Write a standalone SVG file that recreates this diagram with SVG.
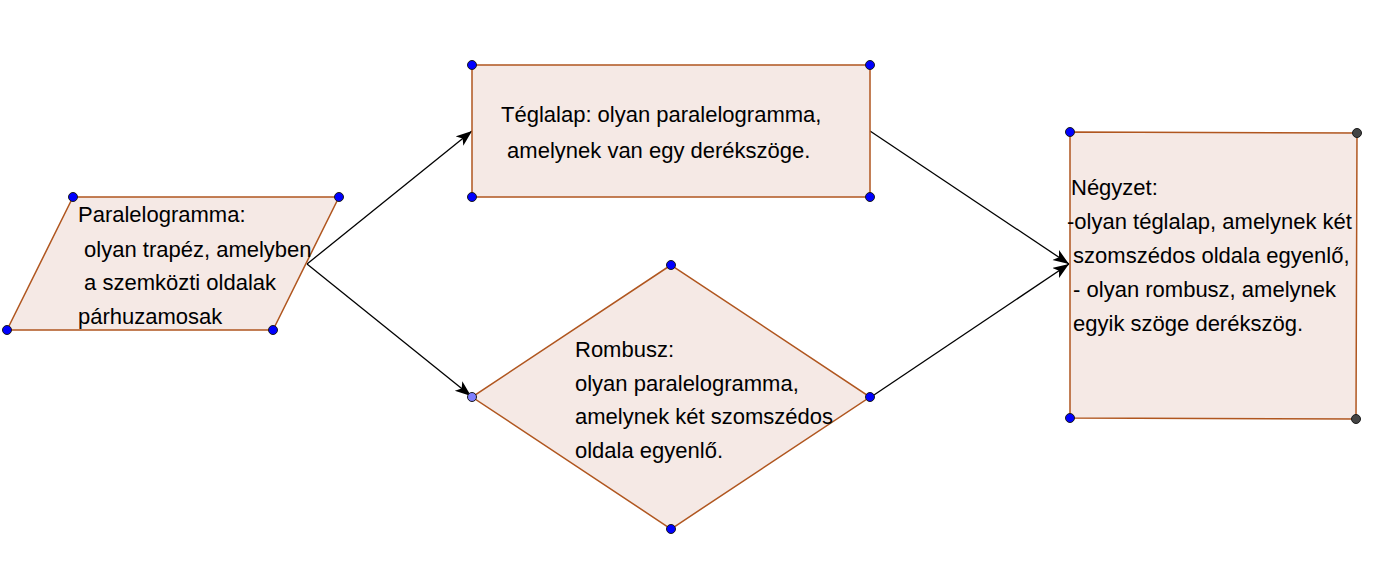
<svg xmlns="http://www.w3.org/2000/svg" width="1384" height="569" viewBox="0 0 1384 569">
<defs>
<style>
.shape{fill:#f5e9e5;stroke:#b0561f;stroke-width:1.5}
.t{font-family:"Liberation Sans",Arial,sans-serif;font-size:22px;fill:#000}
.pt{fill:#0000ff;stroke:#1a1a1a;stroke-width:1}
.pl{fill:#7f7fff;stroke:#1a1a1a;stroke-width:1}
.pg{fill:#444;stroke:#1a1a1a;stroke-width:1}
.c{stroke:#000;stroke-width:1.3;fill:none;marker-end:url(#ah)}
</style>
<marker id="ah" markerUnits="userSpaceOnUse" markerWidth="18" markerHeight="14" refX="16" refY="6" orient="auto">
<path d="M0,0 L16,6 L0,12 L4,6 Z" fill="#000"/>
</marker>
</defs>
<rect width="1384" height="569" fill="#fff"/>
<g id="connectors">
<line class="c" x1="307" y1="264" x2="472" y2="131"/>
<line class="c" x1="307" y1="264" x2="471" y2="396"/>
<line class="c" x1="870" y1="131" x2="1069" y2="264"/>
<line class="c" x1="871" y1="397" x2="1069" y2="264"/>
</g>
<g id="paralelogramma">
<polygon class="shape" points="73,197 339,197 273,330 7,330"/>
<text class="t" x="78" y="222">Paralelogramma:</text>
<text class="t" x="78" y="257" xml:space="preserve"> olyan trapéz, amelyben</text>
<text class="t" x="78" y="290" xml:space="preserve"> a szemközti oldalak</text>
<text class="t" x="78" y="324">párhuzamosak</text>
<circle class="pt" cx="73" cy="197" r="4.5"/>
<circle class="pt" cx="339" cy="197" r="4.5"/>
<circle class="pt" cx="273" cy="330" r="4.5"/>
<circle class="pt" cx="7" cy="330" r="4.5"/>
</g>
<g id="teglalap">
<rect class="shape" x="472" y="65" width="398" height="132"/>
<text class="t" x="501" y="122">Téglalap: olyan paralelogramma,</text>
<text class="t" x="501" y="158" xml:space="preserve"> amelynek van egy derékszöge.</text>
<circle class="pt" cx="472" cy="65" r="4.5"/>
<circle class="pt" cx="870" cy="65" r="4.5"/>
<circle class="pt" cx="472" cy="197" r="4.5"/>
<circle class="pt" cx="870" cy="197" r="4.5"/>
</g>
<g id="rombusz">
<polygon class="shape" points="671,265 870,397 671,529 472,397"/>
<text class="t" x="575" y="357">Rombusz:</text>
<text class="t" x="575" y="391">olyan paralelogramma,</text>
<text class="t" x="575" y="424">amelynek két szomszédos</text>
<text class="t" x="575" y="458">oldala egyenlő.</text>
<circle class="pt" cx="671" cy="265" r="4.5"/>
<circle class="pt" cx="870" cy="397" r="4.5"/>
<circle class="pt" cx="671" cy="529" r="4.5"/>
<circle class="pl" cx="472" cy="397" r="4.5"/>
</g>
<g id="negyzet">
<polygon class="shape" points="1070,132 1357,133 1356,419 1070,418"/>
<text class="t" x="1071" y="195">Négyzet:</text>
<text class="t" x="1067" y="229">-olyan téglalap, amelynek két</text>
<text class="t" x="1067" y="263" xml:space="preserve"> szomszédos oldala egyenlő,</text>
<text class="t" x="1067" y="297" xml:space="preserve"> - olyan rombusz, amelynek</text>
<text class="t" x="1067" y="331" xml:space="preserve"> egyik szöge derékszög.</text>
<circle class="pt" cx="1070" cy="132" r="4.5"/>
<circle class="pg" cx="1357" cy="133" r="4.5"/>
<circle class="pt" cx="1070" cy="418" r="4.5"/>
<circle class="pg" cx="1356" cy="419" r="4.5"/>
</g>
</svg>
